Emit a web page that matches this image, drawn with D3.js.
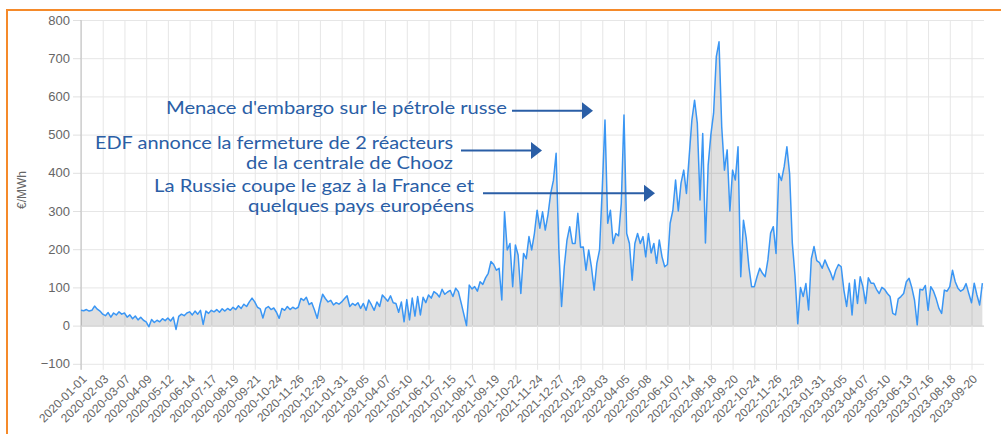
<!DOCTYPE html>
<html><head><meta charset="utf-8">
<script src="https://cdn.jsdelivr.net/npm/d3@7"></script>
<style>body{margin:0;background:#fff}svg{display:block}</style>
</head><body>
<svg id="c" width="1001" height="434"></svg>
<script>
// Daily electricity price (€/MWh), sampled 8 points per labelled interval
const prices = [
40,39,42,38,40,51,43,38,
30,26,34,22,33,28,36,30,
33,22,28,18,25,15,22,14,
10,-3,16,8,14,10,18,13,
20,12,22,-10,24,30,26,33,
36,28,38,30,40,3,38,32,
40,36,42,35,44,38,45,40,
48,42,52,45,56,50,62,72,
62,48,44,20,45,50,42,46,
35,19,45,40,50,42,48,44,
48,71,66,74,55,60,41,19,
55,82,71,62,66,54,60,56,
62,70,78,50,58,53,60,45,
58,40,67,54,40,62,50,80,
72,64,78,60,58,35,62,10,
68,15,72,25,76,28,74,60,
80,72,89,84,75,95,82,88,
92,76,98,89,60,30,0,106,
96,102,90,115,108,125,137,168,
160,145,150,67,298,198,215,102,
211,185,84,189,175,233,198,241,
302,255,298,250,290,346,380,451,
200,50,154,224,259,215,215,294,
205,206,145,198,154,93,163,198,
360,538,268,302,215,241,235,320,
551,241,215,119,215,241,215,233,
180,241,190,215,163,224,180,154,
160,268,302,381,300,373,407,346,
442,538,590,530,329,503,216,420,
500,556,704,743,520,407,460,300,
407,381,468,128,276,230,154,102,
102,128,150,137,128,172,242,259,
189,398,380,416,468,398,216,130,
5,100,76,110,41,175,207,170,
165,150,172,155,140,120,145,160,
154,93,50,111,28,120,58,128,
102,58,125,111,111,95,84,100,
95,84,76,32,28,70,76,84,
115,124,100,67,2,95,93,105,
40,102,90,70,45,32,93,90,
102,145,115,98,90,95,110,84,
60,111,80,54,111
];
const tickLabels = [
"2020-01-01","2020-02-03","2020-03-07","2020-04-09","2020-05-12","2020-06-14","2020-07-17","2020-08-19","2020-09-21","2020-10-24","2020-11-26","2020-12-29",
"2021-01-31","2021-03-05","2021-04-07","2021-05-10","2021-06-12","2021-07-15","2021-08-17","2021-09-19","2021-10-22","2021-11-24","2021-12-27",
"2022-01-29","2022-03-03","2022-04-05","2022-05-08","2022-06-10","2022-07-14","2022-08-18","2022-09-20","2022-10-24","2022-11-26","2022-12-29",
"2023-01-31","2023-03-05","2023-04-07","2023-05-10","2023-06-13","2023-07-16","2023-08-18","2023-09-20"
];
const pointsPerLabel = 8;
const yTicks = [-100,0,100,200,300,400,500,600,700,800];
const yTitle = "€/MWh";
const notes = [
  ["Menace d'embargo sur le pétrole russe"],
  ["EDF annonce la fermeture de 2 réacteurs","de la centrale de Chooz"],
  ["La Russie coupe le gaz à la France et","quelques pays européens"]
];

const svg = d3.select("#c");
const L = 81, R = 984, T = 20, B = 363.8;
const x = d3.scaleLinear().domain([0, 332.6]).range([L, R]);
const y = d3.scaleLinear().domain([-100, 800]).range([B, T]);
const tickIdx = tickLabels.map((_, i) => i * pointsPerLabel);

// frame
svg.append("rect").attr("x", 7).attr("y", 10).attr("width", 1010).attr("height", 500)
  .attr("fill", "none").attr("stroke", "#f58a2a").attr("stroke-width", 2);

// horizontal grid
const gy = svg.append("g").attr("transform", `translate(${L},0)`)
  .call(d3.axisLeft(y).tickValues(yTicks).tickSize(-(R - L)).tickFormat(""));
gy.select(".domain").remove();
gy.selectAll("line").attr("stroke", d => d === 0 ? "#c4c4c4" : "#e6e6e6");

// vertical grid
const gx = svg.append("g").attr("transform", `translate(0,${T})`)
  .call(d3.axisBottom(x).tickValues(tickIdx).tickSize(B - T + 6).tickFormat(""));
gx.select(".domain").remove();
gx.selectAll("line").attr("stroke", "#e6e6e6");

// y axis ticks + labels
const ya = svg.append("g").attr("transform", `translate(${L},0)`)
  .call(d3.axisLeft(y).tickValues(yTicks).tickSize(8).tickPadding(3));
ya.select(".domain").remove();
ya.selectAll("line").attr("stroke", "#e0e0e0");
ya.selectAll("text").attr("fill", "#666").attr("font-size", 13)
  .attr("font-family", "Liberation Sans, Arial, sans-serif");

// left axis line
svg.append("line").attr("x1", L).attr("x2", L).attr("y1", T).attr("y2", B + 6)
  .attr("stroke", "#bdbdbd");

// x labels
const xa = svg.append("g").attr("transform", `translate(0,${B})`)
  .call(d3.axisBottom(x).tickValues(tickIdx).tickSize(0).tickFormat((d, i) => tickLabels[i]));
xa.select(".domain").remove();
xa.selectAll("text")
  .attr("fill", "#666").attr("font-size", 12)
  .attr("font-family", "Liberation Sans, Arial, sans-serif")
  .attr("text-anchor", "end")
  .attr("dy", "0.35em")
  .attr("transform", "translate(3,13) rotate(-45)")
  .attr("y", 0).attr("x", 0);

// y title
svg.append("text").attr("transform", "translate(26,190) rotate(-90)")
  .attr("text-anchor", "middle").attr("fill", "#666").attr("font-size", 12)
  .attr("font-family", "Liberation Sans, Arial, sans-serif").text(yTitle);

// area + line
const area = d3.area().x((d, i) => x(i)).y0(y(0)).y1(d => y(d));
const line = d3.line().x((d, i) => x(i)).y(d => y(d));
svg.append("path").datum(prices).attr("d", area).attr("fill", "rgba(0,0,0,0.12)");
svg.append("path").datum(prices).attr("d", line).attr("fill", "none")
  .attr("stroke", "#3a96f4").attr("stroke-width", 1.5).attr("stroke-linejoin", "round");

// annotations
const blue = "#2a5ea6";
const noteLayout = [
  {right: 507, base: [114], widths: [341], ax1: 512, ax2: 593, ay: 110.7},
  {right: 453, base: [149, 168.5], widths: [358, 207], ax1: 461, ax2: 542, ay: 150.5},
  {right: 474, base: [192, 211.5], widths: [320, 226], ax1: 483, ax2: 655, ay: 193.3}
];
notes.forEach((lines, k) => {
  const lay = noteLayout[k];
  lines.forEach((t, j) => {
    svg.append("text").attr("x", lay.right).attr("y", lay.base[j])
      .attr("text-anchor", "end").attr("fill", blue)
      .attr("font-family", "Lato, 'Open Sans', sans-serif").attr("font-size", 16.5)
      .attr("textLength", lay.widths[j]).attr("lengthAdjust", "spacingAndGlyphs")
      .text(t);
  });
  svg.append("line").attr("x1", lay.ax1).attr("x2", lay.ax2 - 9).attr("y1", lay.ay).attr("y2", lay.ay)
    .attr("stroke", blue).attr("stroke-width", 2);
  svg.append("path")
    .attr("d", `M${lay.ax2},${lay.ay} L${lay.ax2 - 11},${lay.ay - 8.5} L${lay.ax2 - 11},${lay.ay + 8.5} Z`)
    .attr("fill", blue);
});
</script>
</body></html>
